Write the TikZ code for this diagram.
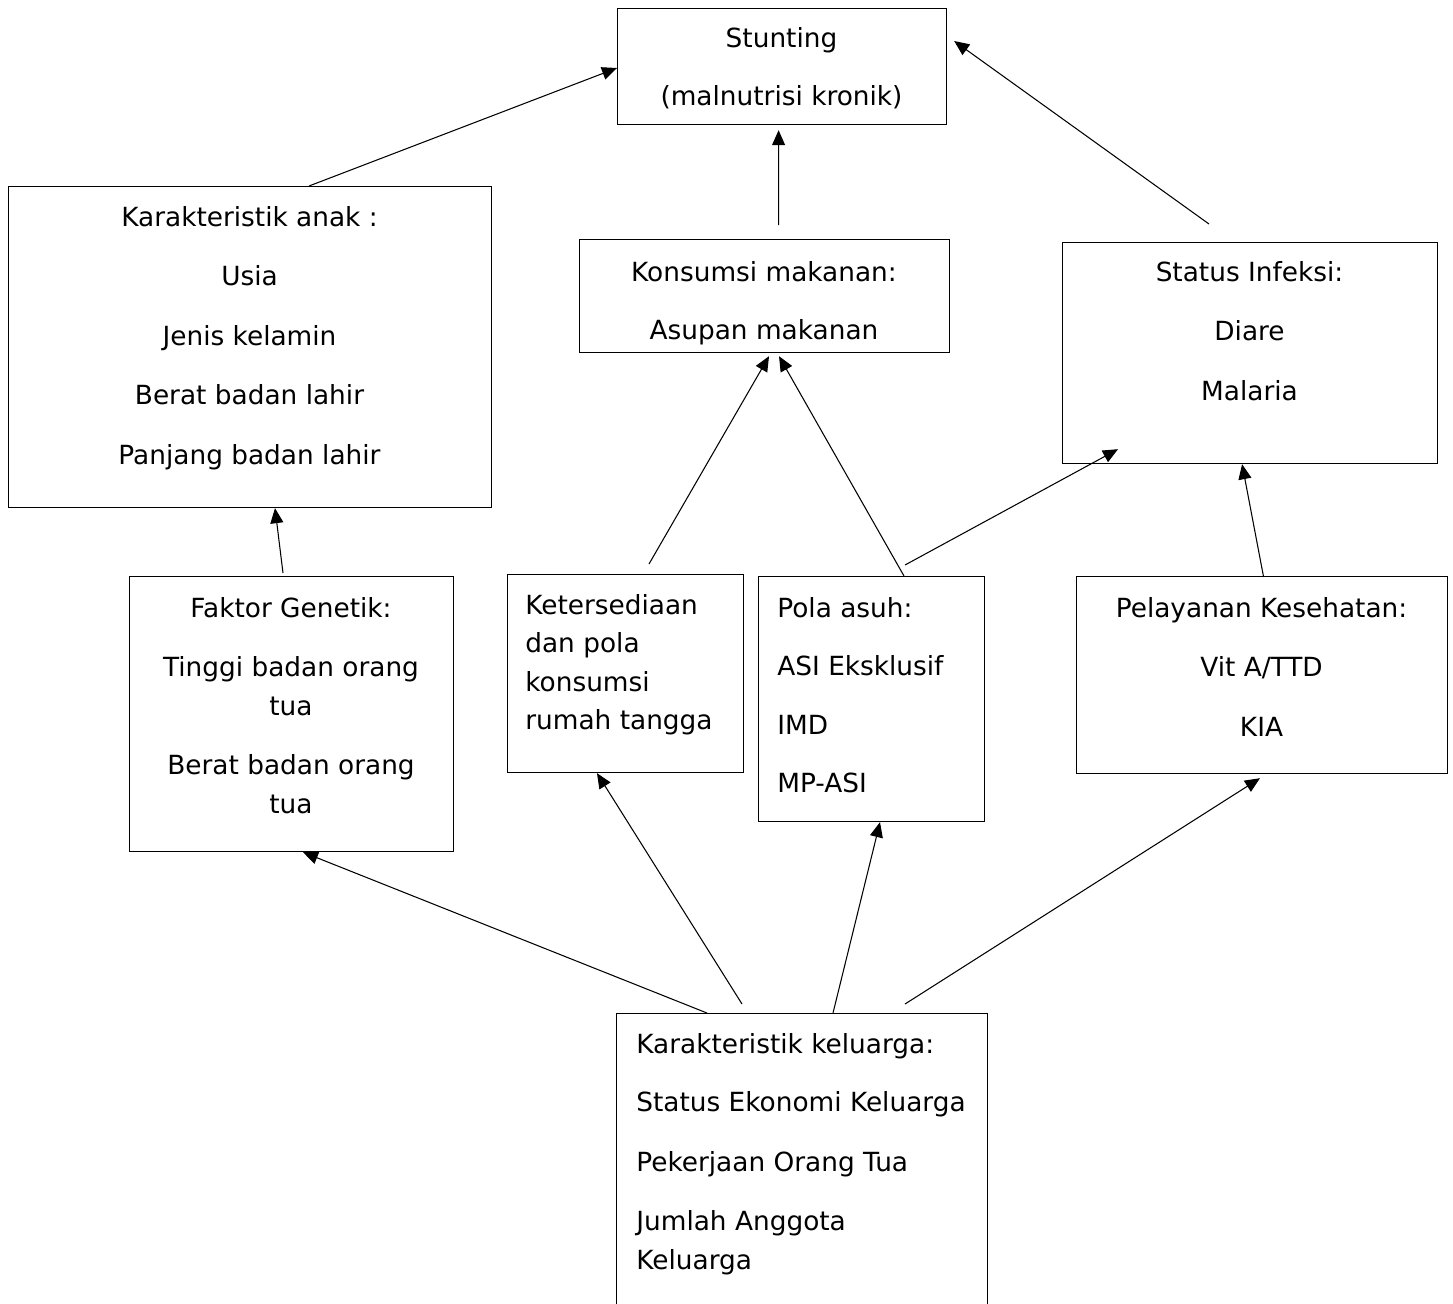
\documentclass[tikz,border=0pt]{standalone}
\usepackage{fontspec}
\setmainfont{DejaVu Sans}
\usepackage{tikz}
\usetikzlibrary{arrows.meta,calc,positioning}

\begin{document}
\begin{tikzpicture}[x=0.02cm, y=-0.02cm,
    box/.style={draw, line width=0.7pt, inner sep=0, anchor=north west},
    txt/.style={inner sep=0, font=\fontsize{15}{21.9}\selectfont},
    arr/.style={line width=0.6pt, -{Triangle[length=0.3cm,width=0.26cm]}}]
\useasboundingbox (0,0) rectangle (1453,1303);
% boxes
\node[box, minimum width=6.58cm, minimum height=2.32cm] (stunt) at (617,8) {};
\node[box, minimum width=9.66cm, minimum height=6.42cm] (anak) at (8,186) {};
\node[box, minimum width=7.40cm, minimum height=2.26cm] (kons) at (579,239) {};
\node[box, minimum width=7.50cm, minimum height=4.42cm] (infeksi) at (1062,242) {};
\node[box, minimum width=6.48cm, minimum height=5.50cm] (genetik) at (129,576) {};
\node[box, minimum width=4.72cm, minimum height=3.96cm] (sedia) at (507,574) {};
\node[box, minimum width=4.52cm, minimum height=4.90cm] (asuh) at (758,576) {};
\node[box, minimum width=7.42cm, minimum height=3.94cm] (layanan) at (1076,576) {};
\node[box, minimum width=7.42cm, minimum height=6.40cm] (kel) at (616,1013) {};
% texts
\node[txt, anchor=north, align=center] (stunt-t) at (781.5,27)
  {Stunting\\[0.39cm](malnutrisi kronik)};
\node[txt, anchor=north, align=center] (anak-t) at (249.5,206)
  {Karakteristik anak :\\[0.42cm]Usia\\[0.42cm]Jenis kelamin\\[0.42cm]Berat badan lahir\\[0.42cm]Panjang badan lahir};
\node[txt, anchor=north, align=center] (kons-t) at (764,261)
  {Konsumsi makanan:\\[0.39cm]Asupan makanan};
\node[txt, anchor=north, align=center] (infeksi-t) at (1249.5,261)
  {Status Infeksi:\\[0.42cm]Diare\\[0.42cm]Malaria};
\node[txt, anchor=north, align=center] (genetik-t) at (291,597)
  {Faktor Genetik:\\[0.42cm]Tinggi badan orang\\tua\\[0.42cm]Berat badan orang\\tua};
\node[txt, anchor=north west, align=left] (sedia-t) at (525,594)
  {Ketersediaan\\dan pola\\konsumsi\\rumah tangga};
\node[txt, anchor=north west, align=left] (asuh-t) at (777,597)
  {Pola asuh:\\[0.40cm]ASI Eksklusif\\[0.40cm]IMD\\[0.40cm]MP-ASI};
\node[txt, anchor=north, align=center] (layanan-t) at (1261.5,597)
  {Pelayanan Kesehatan:\\[0.42cm]Vit A/TTD\\[0.42cm]KIA};
\node[txt, anchor=north west, align=left] (kel-t) at (636,1033)
  {Karakteristik keluarga:\\[0.40cm]Status Ekonomi Keluarga\\[0.42cm]Pekerjaan Orang Tua\\[0.42cm]Jumlah Anggota\\Keluarga};
% arrows
\draw[arr] ($(anak.north west)+(301,0)$) -- ($(stunt.north west)+(0,60)$);
\draw[arr] ($(kons.north)+(14,-14)$) -- ($(stunt.south)+(-3.5,5)$);
\draw[arr] ($(infeksi.north west)+(147,-18)$) -- ($(stunt.north east)+(7,33)$);
\draw[arr] ($(sedia.north west)+(142,-10)$) -- ($(kons.south west)+(190,3)$);
\draw[arr] ($(asuh.north west)+(146,0)$) -- ($(kons.south west)+(200,3)$);
\draw[arr] ($(asuh.north west)+(147,-11)$) -- ($(infeksi.south west)+(56,-15)$);
\draw[arr] ($(layanan.north)+(1.5,1)$) -- ($(infeksi.south)+(-8,0)$);
\draw[arr] ($(genetik.north west)+(154,-3)$) -- ($(anak.south west)+(267,0)$);
\draw[arr] ($(kel.north west)+(91,0)$) -- ($(genetik.south west)+(174,0)$);
\draw[arr] ($(kel.north west)+(126,-9)$) -- ($(sedia.south west)+(90,0)$);
\draw[arr] ($(kel.north west)+(217,0)$) -- ($(asuh.south west)+(122,0)$);
\draw[arr] ($(kel.north west)+(289,-9)$) -- ($(layanan.south west)+(184,4)$);
\end{tikzpicture}
\end{document}
